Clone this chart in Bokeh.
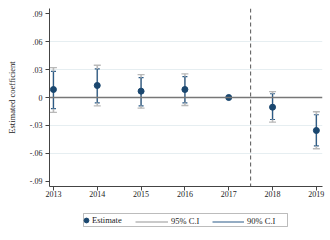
from bokeh.plotting import figure
from bokeh.layouts import column
from bokeh.models import (ColumnDataSource, Span, Whisker, TeeHead, FixedTicker,
                          Legend, LegendItem, Range1d, BoxAnnotation)
from bokeh.embed import file_html
from bokeh.resources import INLINE

years = [2013, 2014, 2015, 2016, 2017, 2018, 2019]
estimate = [0.0086, 0.0129, 0.0068, 0.0086, 0.0, -0.0104, -0.0354]
ci95_lo = [-0.0160, -0.0089, -0.0115, -0.0086, None, -0.0265, -0.0550]
ci95_hi = [0.0320, 0.0346, 0.0246, 0.0254, None, 0.0064, -0.0153]
ci90_lo = [-0.0120, -0.0057, -0.0089, -0.0057, None, -0.0236, -0.0520]
ci90_hi = [0.0280, 0.0307, 0.0214, 0.0225, None, 0.0040, -0.0185]
ytick_values = [-0.09, -0.06, -0.03, 0, 0.03, 0.06, 0.09]
ytick_labels = ["-.09", "-.06", "-.03", "0", ".03", ".06", ".09"]
grid_values = [-0.06, -0.03, 0.03, 0.06]
treatment_break = 2017.5
legend_labels = ["Estimate", "95% C.I", "90% C.I"]

FONT = "Liberation Serif"
NAVY = "#1a476f"
BLUE = "#2b5b87"
GRAY = "#b9b9b9"

idx = [i for i, v in enumerate(ci95_lo) if v is not None]
ci_src = ColumnDataSource(dict(
    x=[years[i] for i in idx],
    lo95=[ci95_lo[i] for i in idx], hi95=[ci95_hi[i] for i in idx],
    lo90=[ci90_lo[i] for i in idx], hi90=[ci90_hi[i] for i in idx],
))
est_src = ColumnDataSource(dict(x=years, y=estimate))

p = figure(width=330, height=200, output_backend="svg", toolbar_location=None,
           x_range=Range1d(2012.91, 2019.14), y_range=Range1d(-0.0955, 0.0955),
           min_border_left=49, min_border_right=8, min_border_top=8, min_border_bottom=14)
p.outline_line_color = None
p.background_fill_color = "white"

# grid
p.xgrid.visible = False
p.ygrid.ticker = FixedTicker(ticks=grid_values)
p.ygrid.grid_line_color = "#e6eef1"
p.ygrid.grid_line_width = 1

# reference lines
p.add_layout(Span(location=0, dimension="width", line_color="#777777", line_width=1.3))
p.add_layout(Span(location=treatment_break, dimension="height", line_color="#555555",
                  line_width=1, line_dash="4 3"))

SEG95 = dict(line_color=GRAY, line_width=1.6)
SEG90 = dict(line_color=BLUE, line_width=1.2)
PTS = dict(size=6, fill_color=NAVY, line_color=NAVY)


def draw_marks(fig):
    r95 = fig.segment(x0="x", y0="lo95", x1="x", y1="hi95", source=ci_src, **SEG95)
    r90 = fig.segment(x0="x", y0="lo90", x1="x", y1="hi90", source=ci_src, **SEG90)
    rpt = fig.scatter(x="x", y="y", source=est_src, **PTS)
    return rpt, r95, r90


p.segment(x0="x", y0="lo95", x1="x", y1="hi95", source=ci_src, **SEG95)
p.add_layout(Whisker(base="x", lower="lo95", upper="hi95", source=ci_src, line_alpha=0,
                     upper_head=TeeHead(size=7, line_color=GRAY, line_width=1.3),
                     lower_head=TeeHead(size=7, line_color=GRAY, line_width=1.3)))
p.segment(x0="x", y0="lo90", x1="x", y1="hi90", source=ci_src, **SEG90)
p.add_layout(Whisker(base="x", lower="lo90", upper="hi90", source=ci_src, line_alpha=0,
                     upper_head=TeeHead(size=5, line_color=BLUE, line_width=1.2),
                     lower_head=TeeHead(size=5, line_color=BLUE, line_width=1.2)))
p.scatter(x="x", y="y", source=est_src, **PTS)

# axes
for ax in (p.xaxis[0], p.yaxis[0]):
    ax.axis_line_color = "#444444"
    ax.major_tick_line_color = "#444444"
    ax.major_tick_out = 4
    ax.major_tick_in = 0
    ax.minor_tick_line_color = None
    ax.major_label_text_font = FONT
    ax.major_label_text_font_size = "8px"
    ax.major_label_text_color = "#222222"
    ax.axis_label_text_font = FONT
    ax.axis_label_text_font_size = "8.5px"
    ax.axis_label_text_font_style = "normal"
    ax.axis_label_text_color = "#222222"

p.xaxis.ticker = FixedTicker(ticks=years)
p.xaxis.major_label_standoff = 0
p.yaxis.ticker = FixedTicker(ticks=ytick_values)
p.yaxis.major_label_overrides = {v: l for v, l in zip(ytick_values, ytick_labels)}
p.yaxis.major_label_orientation = "horizontal"
p.yaxis.major_label_standoff = 3
p.yaxis.axis_label = "Estimated coefficient"
p.yaxis.axis_label_standoff = 10

# legend strip: same renderers (out of this strip's view) provide the legend keys
lg = figure(width=330, height=40, output_backend="svg", toolbar_location=None,
            x_range=Range1d(49, 322), y_range=Range1d(0, 40),
            x_axis_type=None, y_axis_type=None,
            min_border_left=49, min_border_right=8, min_border_top=0, min_border_bottom=0)
lg.outline_line_color = None
lg.grid.visible = False
k_pts, k_95, k_90 = draw_marks(lg)

common = dict(orientation="horizontal", border_line_color=None, background_fill_alpha=0,
              spacing=0, margin=0, label_height=9,
              label_text_font=FONT, label_text_font_size="8.5px", label_text_color="#222222")
lg.add_layout(Legend(items=[LegendItem(label=legend_labels[0], renderers=[k_pts])],
                     location=(31, 14), glyph_width=12, glyph_height=12, padding=0,
                     label_standoff=0, **common), "center")
lg.add_layout(Legend(items=[LegendItem(label=legend_labels[1], renderers=[k_95])],
                     location=(86, 14), glyph_width=33, glyph_height=9, padding=2,
                     label_standoff=3, **common), "center")
lg.add_layout(Legend(items=[LegendItem(label=legend_labels[2], renderers=[k_90])],
                     location=(163, 14), glyph_width=32, glyph_height=9, padding=2,
                     label_standoff=3, **common), "center")
lg.add_layout(BoxAnnotation(left=83, right=287, bottom=14, top=27, fill_alpha=0,
                            line_color="#222222", line_width=1))

layout = column(p, lg, spacing=0)
open("out.html", "w").write(file_html(layout, INLINE))
